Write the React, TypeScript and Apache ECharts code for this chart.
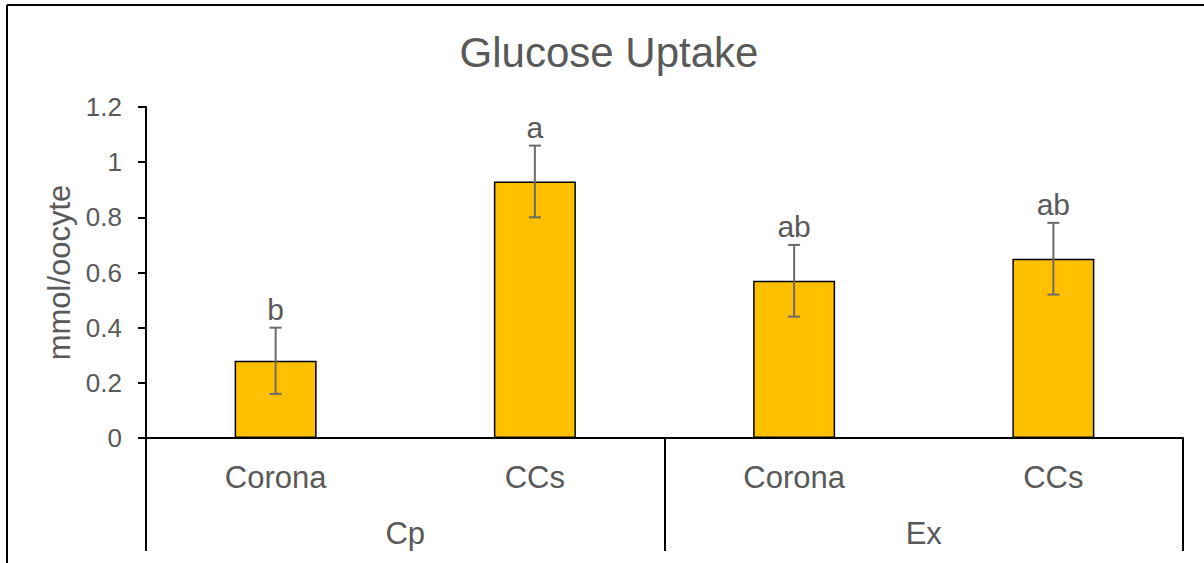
import React, { useEffect, useRef } from "react";
import * as echarts from "echarts";

const title = "Glucose Uptake";
const yAxisName = "mmol/oocyte";
const groups = ["Cp", "Ex"];
const categories = ["Corona", "CCs", "Corona", "CCs"];
const means = [0.28, 0.93, 0.57, 0.65];
const errLow = [0.16, 0.8, 0.44, 0.52];
const errHigh = [0.4, 1.06, 0.7, 0.78];
const letters = ["b", "a", "ab", "ab"];
const yMin = 0;
const yMax = 1.2;
const yStep = 0.2;

const FONT = 'Arial, "Liberation Sans", sans-serif';
const TEXT = "#595959";

export default function App() {
  const ref = useRef<HTMLDivElement>(null);
  useEffect(() => {
    document.body.style.margin = "0";
    const chart = echarts.init(ref.current!, null, { renderer: "svg" });
    const errData = means.map((_, i) => [i, errLow[i], errHigh[i], letters[i]]);
    chart.setOption({
      animation: false,
      backgroundColor: "#ffffff",
      title: {
        text: title,
        left: 604,
        textAlign: "center",
        top: 26,
        textStyle: { fontFamily: FONT, fontSize: 42, fontWeight: "normal", color: TEXT },
      },
      graphic: [
        { type: "line", shape: { x1: 7, y1: 5, x2: 1204, y2: 5 }, style: { stroke: "#000", lineWidth: 2 } },
        { type: "line", shape: { x1: 7, y1: 5, x2: 7, y2: 563 }, style: { stroke: "#000", lineWidth: 2 } },
      ],
      grid: { left: 146, right: 21, top: 107, bottom: 125, containLabel: false },
      xAxis: [
        {
          type: "category",
          data: categories,
          position: "bottom",
          axisLine: { show: true, lineStyle: { color: "#000", width: 2 } },
          axisTick: { show: false },
          axisLabel: { margin: 24, fontFamily: FONT, fontSize: 31, color: TEXT },
        },
        {
          type: "category",
          data: groups,
          position: "bottom",
          axisLine: { show: false },
          axisTick: { show: true, length: 113, lineStyle: { color: "#000", width: 2 } },
          axisLabel: { margin: 80, fontFamily: FONT, fontSize: 31, color: TEXT },
        },
      ],
      yAxis: {
        type: "value",
        min: yMin,
        max: yMax,
        interval: yStep,
        name: yAxisName,
        nameLocation: "middle",
        nameRotate: 90,
        nameGap: 70,
        nameTextStyle: { fontFamily: FONT, fontSize: 31, color: TEXT },
        axisLine: { show: true, lineStyle: { color: "#000", width: 2 } },
        axisTick: { show: true, length: 8, lineStyle: { color: "#000", width: 2 } },
        splitLine: { show: false },
        axisLabel: { margin: 24, fontFamily: FONT, fontSize: 26, color: TEXT },
      },
      series: [
        {
          type: "bar",
          xAxisIndex: 0,
          data: means,
          barWidth: 82,
          itemStyle: { color: "#FFC000", borderColor: "#000", borderWidth: 1.5 },
        },
        {
          type: "custom",
          xAxisIndex: 0,
          data: errData,
          encode: { x: 0, y: [1, 2] },
          z: 10,
          renderItem: (params: any, api: any) => {
            const i = api.value(0);
            const lo = api.coord([i, api.value(1)]);
            const hi = api.coord([i, api.value(2)]);
            const x = lo[0];
            const half = 6;
            const style = { stroke: "#6b6b6b", lineWidth: 2 };
            return {
              type: "group",
              children: [
                { type: "line", shape: { x1: x, y1: lo[1], x2: x, y2: hi[1] }, style },
                { type: "line", shape: { x1: x - half, y1: lo[1], x2: x + half, y2: lo[1] }, style },
                { type: "line", shape: { x1: x - half, y1: hi[1], x2: x + half, y2: hi[1] }, style },
                {
                  type: "text",
                  x: x,
                  y: hi[1] - 3,
                  style: {
                    text: letters[params.dataIndex],
                    fontFamily: FONT,
                    fontSize: 30,
                    fill: TEXT,
                    align: "center",
                    verticalAlign: "bottom",
                  },
                },
              ],
            };
          },
        },
      ],
    });
    return () => chart.dispose();
  }, []);
  return <div ref={ref} style={{ width: 1204, height: 563 }} />;
}
